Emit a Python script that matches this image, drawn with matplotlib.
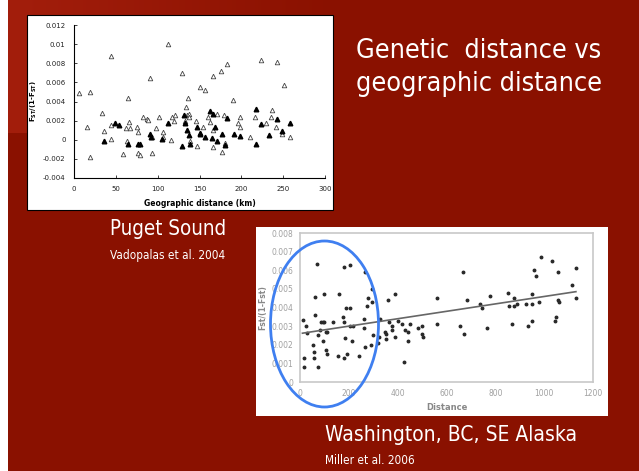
import numpy as np
import matplotlib.pyplot as plt
from matplotlib.patches import Rectangle, Ellipse
from matplotlib.ticker import FuncFormatter

W, H = 639, 471

# Puget Sound (Vadopalas et al. 2004): open triangles
open_km = [6, 19.5, 16, 19.5, 34, 36, 44, 44, 44, 64, 66, 62, 67, 59, 63, 75, 77, 76, 79,
           82, 87, 88, 91, 93, 93, 98, 102, 106, 106, 112, 116, 117, 119, 121, 129, 134,
           135, 136, 133, 137, 138, 139, 146, 147, 151, 157, 154, 160.5, 163, 166, 166.5,
           171, 176, 176.5, 179, 180, 183, 190, 196, 198, 198, 210, 216, 223, 229, 236,
           237, 243, 241, 251, 258, 166, 249]
open_fst = [0.0049, 0.005, 0.0013, -0.00184, 0.00275, 0.00087, 0.0088, 0.00157, 0.0001,
            0.00435, 0.00184, 0.0012, 0.0012, -0.00146, -0.00014, 0.0013, 0.0008, -0.0014,
            -0.0016, 0.0024, 0.00216, 0.0021, 0.00643, -0.0014, 0.0003, 0.0012, 0.00237,
            0.0008, 0.0003, 0.01, 0.0, 0.0024, 0.002, 0.0026, 0.007, 0.0034, 0.0026, 0.0044,
            0.002, 0.0027, 0.0024, -0.00014, 0.002, -0.0007, 0.0055, 0.0052, 0.0013, 0.0024,
            0.0019, 0.0067, -0.00077, 0.0027, 0.0072, -0.0013, 0.0026, -0.0003, 0.0079,
            0.0042, 0.0018, 0.0024, 0.0013, 0.00024, 0.0024, 0.0083, 0.0018, 0.0024, 0.0031,
            0.0081, 0.0013, 0.0057, 0.00024, 0.001, 0.0006]

# Puget Sound: filled triangles
filled_km = [36, 49, 54, 64, 77, 79, 91, 92, 105.6, 112, 129, 132, 133, 135, 138, 139,
             146.6, 150, 151, 157, 163, 166, 165, 168, 171, 177, 180, 183, 191, 198, 217,
             218, 223, 233, 243, 249, 258]
filled_fst = [-0.0001, 0.0017, 0.0015, -0.00045, -0.00045, -0.00045, 0.0006, 0.0003, 0.0001,
              0.0017, -0.0007, 0.0026, 0.0017, 0.001, 0.0005, -0.00045, 0.0013, 0.0007,
              0.0006, 0.0003, 0.003, 0.0027, 0.00014, 0.0013, -0.0001, 0.0006, -0.0005,
              0.0023, 0.00055, 0.00035, -0.0004, 0.0032, 0.0016, 0.00045, 0.0022, 0.0009,
              0.0018]

# Washington, BC, SE Alaska (Miller et al. 2006)
dist = [11, 18, 16, 26, 27, 55, 57, 56, 60, 63, 71, 72, 72, 83, 87, 94, 97, 96, 100, 108,
        108, 109, 109, 135, 156, 161, 177, 179, 182, 184, 182, 187, 191, 206, 206, 206, 212,
        216, 240, 261, 262, 266, 266, 276, 277, 291, 295, 296, 300, 318, 325, 329, 348, 351,
        352, 362, 365, 375, 375, 389, 389, 403, 418, 427, 430, 444, 444, 450, 485, 498, 501,
        505, 561, 562, 654, 669, 670, 685, 737, 744, 767, 779, 853, 854, 867, 878, 878, 887,
        925, 932, 949, 950, 951, 960, 965, 979, 987, 1033, 1043, 1048, 1058, 1058, 1061,
        1113, 1129, 1131]
fst = [0.00334, 0.00131, 0.00081, 0.003, 0.00262, 0.002, 0.0016, 0.0013, 0.0036, 0.00457,
       0.00636, 0.0025, 0.00081, 0.0028, 0.0032, 0.0032, 0.00473, 0.0022, 0.0032, 0.0027,
       0.0017, 0.0015, 0.0027, 0.0032, 0.0014, 0.0047, 0.0035, 0.0032, 0.0062, 0.00234,
       0.0013, 0.004, 0.0015, 0.0063, 0.004, 0.003, 0.0022, 0.003, 0.0014, 0.0034, 0.0029,
       0.0059, 0.0019, 0.0041, 0.0045, 0.002, 0.005, 0.0043, 0.0025, 0.0021, 0.0024, 0.0034,
       0.0027, 0.0023, 0.0026, 0.0044, 0.0032, 0.003, 0.0028, 0.0047, 0.0024, 0.0033, 0.0031,
       0.0011, 0.0028, 0.0022, 0.0027, 0.0031, 0.0029, 0.003, 0.0026, 0.0024, 0.0045, 0.0031,
       0.003, 0.0059, 0.0026, 0.0044, 0.0042, 0.004, 0.0029, 0.0046, 0.0048, 0.0041, 0.0031,
       0.0045, 0.0041, 0.0042, 0.0042, 0.003, 0.0047, 0.0042, 0.0033, 0.006, 0.0057, 0.0043,
       0.0067, 0.0065, 0.0033, 0.0035, 0.0059, 0.0044, 0.0043, 0.0052, 0.0061, 0.0045]
trend_x = [10, 1130]
trend_y = [0.00262, 0.00485]

slide_red = '#8a1100'
fig = plt.figure(figsize=(W / 100, H / 100), dpi=100)
fig.patch.set_facecolor(slide_red)

# background layer in pixel coordinates
bg = fig.add_axes([0, 0, 1, 1], zorder=-5)
bg.set_xlim(0, W)
bg.set_ylim(H, 0)
bg.axis('off')
grad = np.zeros((2, 330, 4))
grad[..., 0], grad[..., 1], grad[..., 2] = 0.64, 0.12, 0.05
grad[..., 3] = np.linspace(1, 0, 330)
bg.imshow(grad, extent=[8, 338, 133, 0], aspect='auto', interpolation='bilinear')
bg.add_patch(Rectangle((0, 0), 8, H, facecolor='white', edgecolor='none'))
bg.add_patch(Rectangle((27, 15), 306, 195, facecolor='white', edgecolor='black', linewidth=0.8))
bg.add_patch(Rectangle((256, 227), 352, 189, facecolor='white', edgecolor='none'))

# top chart
ax1 = fig.add_axes([74 / W, 1 - 178 / H, 251 / W, 153 / H])
ax1.set_facecolor('white')
ax1.plot(open_km, open_fst, '^', ms=3.3, mfc='white', mec='#444444', mew=0.6, ls='none')
ax1.plot(filled_km, filled_fst, '^', ms=3.3, color='black', ls='none')
ax1.set_xlim(0, 300)
ax1.set_ylim(-0.004, 0.012)
ax1.set_xticks(np.arange(0, 301, 50))
ax1.set_yticks(np.arange(-0.004, 0.0121, 0.002))
ax1.yaxis.set_major_formatter(FuncFormatter(lambda v, p: '%g' % round(v, 4)))
for s in ['top', 'right']:
    ax1.spines[s].set_visible(False)
for s in ['left', 'bottom']:
    ax1.spines[s].set_linewidth(0.8)
ax1.tick_params(direction='in', length=2, width=0.6, labelsize=5, colors='#222222', pad=6)
ax1.set_xlabel('Geographic distance (km)', fontsize=5.5, fontweight='bold', labelpad=5)
ax1.set_ylabel(r'F$_{\mathbf{ST}}$/(1-F$_{\mathbf{ST}}$)', fontsize=5, fontweight='bold', labelpad=3)

# bottom chart
ax2 = fig.add_axes([300 / W, 1 - 382 / H, 293 / W, 149 / H])
ax2.set_facecolor('white')
ax2.plot(dist, fst, 'o', ms=1.8, color='#2a2a2a', ls='none')
ax2.plot(trend_x, trend_y, color='#666666', lw=1.2)
ax2.set_xlim(0, 1200)
ax2.set_ylim(0, 0.008)
ax2.set_xticks(np.arange(0, 1201, 200))
ax2.set_yticks(np.arange(0, 0.0081, 0.001))
ax2.yaxis.set_major_formatter(FuncFormatter(lambda v, p: '0' if v == 0 else '%.3f' % v))
for s in ax2.spines.values():
    s.set_color('#c8c8c8')
    s.set_linewidth(1.2)
ax2.tick_params(length=0, labelsize=5.5, colors='#a0a0a0', pad=5)
ax2.set_xlabel('Distance', fontsize=6, fontweight='bold', color='#888888', labelpad=4)
ax2.set_ylabel('Fst/(1-Fst)', fontsize=5.5, fontweight='bold', color='#888888', labelpad=3)

# overlay: ellipse and slide text
ov = fig.add_axes([0, 0, 1, 1], zorder=10)
ov.set_xlim(0, W)
ov.set_ylim(H, 0)
ov.axis('off')
ov.patch.set_alpha(0)
ov.add_patch(Ellipse((324.5, 324), 108, 166, fill=False, edgecolor='#3f7ff0', linewidth=2))

tf = dict(color='white', ha='left', va='baseline', family='DejaVu Sans', fontstretch='condensed')
ov.text(356, 58, 'Genetic  distance vs', fontsize=19.4, **tf)
ov.text(356, 91, 'geographic distance', fontsize=19.4, **tf)
ov.text(110, 235, 'Puget Sound', fontsize=14.8, **tf)
ov.text(110, 259, 'Vadopalas et al. 2004', fontsize=8.5, **tf)
ov.text(325, 441, 'Washington, BC, SE Alaska', fontsize=15, **tf)
ov.text(325, 464, 'Miller et al. 2006', fontsize=8.5, **tf)

fig.savefig('out.png', dpi=100, facecolor=fig.get_facecolor())
